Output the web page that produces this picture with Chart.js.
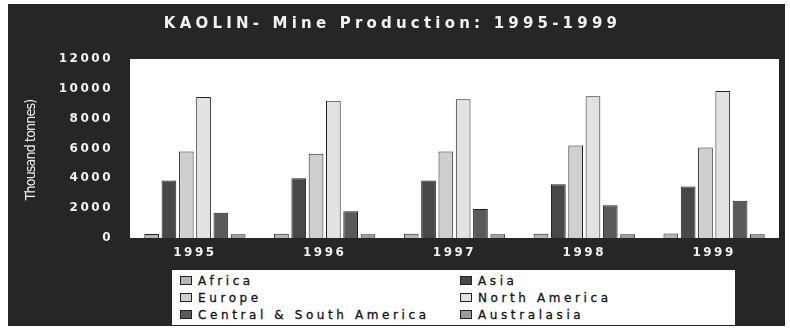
<!DOCTYPE html>
<html>
<head>
<meta charset="utf-8">
<script src="https://cdn.jsdelivr.net/npm/chart.js@4"></script>
<style>
  body { margin: 0; background: #fff; }
  #wrap { position: relative; width: 790px; height: 328px; }
  #title {
    position: absolute; left: 0; top: 14px; width: 785px; text-align: center;
    color: #f2f2f2; font: bold 15px "DejaVu Sans", sans-serif; letter-spacing: 4.2px;
  }
  #ytitle {
    position: absolute; left: 30px; top: 150px; width: 140px; margin-left: -70px; margin-top: -8px;
    text-align: center; transform: rotate(-90deg);
    color: #f0f0f0; font: 14px "DejaVu Sans Condensed", "Liberation Sans Narrow", sans-serif;
    font-stretch: condensed; letter-spacing: -0.8px;
  }
  #legend {
    position: absolute; left: 172px; top: 270px; width: 563px; height: 55px;
    background: #fff; display: grid; grid-template-columns: 280px 280px;
    grid-auto-rows: 17px; padding-top: 2px; box-sizing: border-box;
  }
  .item { display: flex; align-items: center; font: 12px "DejaVu Sans", sans-serif;
    letter-spacing: 3.6px; color: #111; padding-left: 8px; -webkit-text-stroke: 0.3px #111; }
  .box { width: 10px; height: 7px; border: 1px solid #222; margin-right: 6px; }
</style>
</head>
<body>
<div id="wrap">
  <canvas id="chart" width="790" height="328"></canvas>
  <div id="title">KAOLIN- Mine Production: 1995-1999</div>
  <div id="ytitle">Thousand tonnes)</div>
  <div id="legend"></div>
</div>
<script>
const years = ["1995", "1996", "1997", "1998", "1999"];
const africa = [270, 280, 280, 280, 300];
const asia = [3850, 4000, 3850, 3600, 3450];
const europe = [5800, 5650, 5800, 6200, 6070];
const northAmerica = [9450, 9200, 9300, 9500, 9850];
const centralSouthAmerica = [1700, 1800, 1950, 2200, 2500];
const australasia = [250, 250, 250, 250, 250];
const yTicks = [0, 2000, 4000, 6000, 8000, 10000, 12000];

const series = [
  { label: "Africa", data: africa, color: "#b4b4b4" },
  { label: "Asia", data: asia, color: "#484848" },
  { label: "Europe", data: europe, color: "#cfcfcf" },
  { label: "North America", data: northAmerica, color: "#e2e2e2" },
  { label: "Central & South America", data: centralSouthAmerica, color: "#5a5a5a" },
  { label: "Australasia", data: australasia, color: "#9a9a9a" },
];

const frame = {
  id: "frame",
  beforeDraw(chart) {
    const { ctx, chartArea: a } = chart;
    ctx.save();
    ctx.fillStyle = "#262626";
    ctx.fillRect(8, 4, 777, 322);
    ctx.fillStyle = "#fff";
    ctx.fillRect(a.left, a.top, a.right - a.left, a.bottom - a.top);
    ctx.restore();
    ctx.letterSpacing = "2.5px";
  }
};

const tickFont = { family: "DejaVu Sans", size: 12, weight: "bold" };

new Chart(document.getElementById("chart"), {
  type: "bar",
  data: {
    labels: years,
    datasets: series.map(s => ({
      label: s.label,
      data: s.data,
      backgroundColor: s.color,
      borderColor: "#222",
      borderWidth: 1,
      categoryPercentage: 0.8,
      barPercentage: 0.85,
    }))
  },
  options: {
    responsive: false,
    animation: false,
    layout: { padding: { top: 59, right: 11, left: 0, bottom: 0 } },
    scales: {
      x: {
        grid: { display: false, drawTicks: false },
        border: { display: false },
        ticks: { color: "#f2f2f2", padding: 8, font: tickFont },
        afterFit: s => { s.height = 90; }
      },
      y: {
        min: 0,
        max: 12000,
        grid: { display: false, drawTicks: false },
        border: { display: false },
        afterBuildTicks: s => { s.ticks = yTicks.map(v => ({ value: v })); },
        ticks: { color: "#f2f2f2", padding: 17, font: tickFont, callback: v => String(v) },
        afterFit: s => { s.width = 130; }
      }
    },
    plugins: { legend: { display: false }, tooltip: { enabled: false } }
  },
  plugins: [frame]
});

const legend = document.getElementById("legend");
series.forEach(s => {
  const item = document.createElement("div");
  item.className = "item";
  const box = document.createElement("span");
  box.className = "box";
  box.style.background = s.color;
  item.appendChild(box);
  item.appendChild(document.createTextNode(s.label));
  legend.appendChild(item);
});
</script>
</body>
</html>
